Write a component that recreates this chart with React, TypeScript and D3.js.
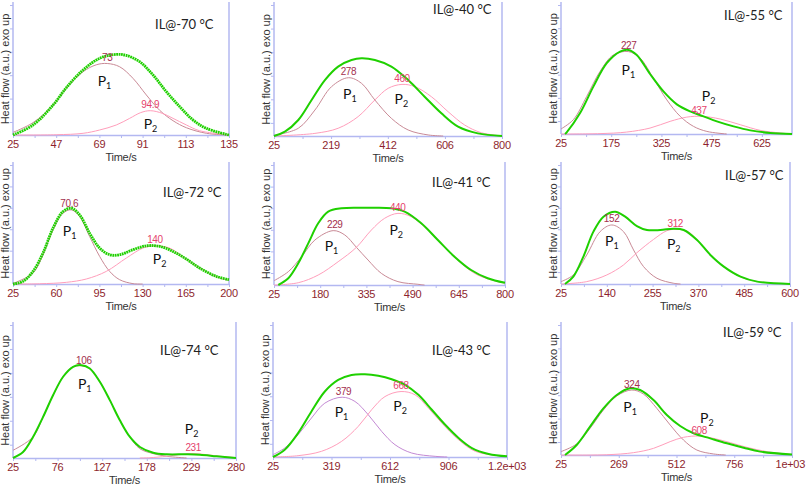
import * as d3 from 'd3';
import { useEffect, useRef } from 'react';

type Pt = [number, number];

// x ticks (values + labels) per panel
const ticks70 = [25, 47, 69, 91, 113, 135];
const ticks40 = [25, 219, 412, 606, 800];
const ticks55 = [25, 175, 325, 475, 625];
const ticks72 = [25, 60, 95, 130, 165, 200];
const ticks41 = [25, 180, 335, 490, 645, 800];
const ticks57 = [25, 140, 255, 370, 485, 600];
const ticks74 = [25, 76, 127, 178, 229, 280];
const ticks43 = [25, 318.75, 612.5, 906.25, 1200];
const tickLabels43 = ['25', '319', '612', '906', '1.2e+03'];
const ticks59 = [25, 268.75, 512.5, 756.25, 1000];
const tickLabels59 = ['25', '269', '512', '756', '1e+03'];

// heat flow, % of plot height
const total70: Pt[] = [[25, 0], [35.2, 7.7], [45.4, 23], [52.2, 36.5], [60.7, 50], [69.1, 59], [77.6, 62], [82.7, 61.2], [89.5, 56.4], [96.3, 46.2], [103.1, 33.3], [109.9, 21.8], [116.7, 11.5], [123.5, 5.1], [135, 0]];
const p1_70: Pt[] = [[25, 2], [35.2, 9.5], [45.4, 23], [52.2, 36], [60.7, 48.7], [67.4, 54], [73, 55], [79.3, 52.5], [86.1, 43.6], [92.9, 30.8], [99.7, 19], [106.5, 11], [113.3, 5.6], [123.5, 1.3], [135, 0]];
const p2_70: Pt[] = [[25, 0], [47, 0.2], [60.7, 1.3], [69, 3.8], [77.6, 7.7], [84.4, 12.8], [90, 17.2], [94.9, 18.7], [101, 16.7], [106.5, 12.8], [113.3, 7.7], [120, 3.3], [135, 0]];

const total40: Pt[] = [[25, 0], [62, 3.3], [107.6, 12.2], [152.8, 27.5], [198, 42.7], [243, 53], [288.6, 58], [322.5, 59.3], [367.8, 58], [424, 53], [481, 42.7], [537, 30], [594, 17.3], [650.6, 7.1], [718, 2], [800, 0]];
const p1_40: Pt[] = [[25, 0.5], [107.6, 5.9], [164, 19.8], [220.7, 37.7], [278, 44.5], [322.5, 40.2], [367.8, 27.5], [424, 13.5], [481, 4.6], [549, 0.8], [600, 0]];
const p2_40: Pt[] = [[25, 0], [164, 2], [243, 5.9], [311, 14.8], [367.8, 27.5], [413, 36.4], [460, 39.4], [503.5, 37.7], [560, 30], [616.6, 18.6], [673, 8.4], [729.8, 2.5], [800, 0]];

const total55: Pt[] = [[37, 0], [42, 1.3], [82, 16.2], [122, 36.9], [161.6, 54.9], [201.5, 63.9], [226.4, 65.2], [251.3, 61.3], [291, 46.5], [331, 33], [371, 23], [411, 17.5], [450.7, 13.7], [490.6, 9.8], [540.5, 5.9], [590.3, 2.8], [650, 0.8], [715, 0]];
const p1_55: Pt[] = [[25, 3.9], [61.9, 11.1], [101.8, 29.1], [141.6, 48.5], [181.5, 61.3], [226.4, 63.9], [261.3, 58.8], [301, 43.3], [341, 26.5], [381, 13.7], [420.8, 5.9], [460.7, 2], [520, 0]];
const p2_55: Pt[] = [[25, 0], [141.6, 0.3], [221, 1.5], [291, 4.6], [351, 9.8], [400.9, 13.1], [445.7, 13.7], [500.6, 11.6], [560.4, 7.2], [620.2, 2.8], [680, 0.8], [715, 0]];

const total72: Pt[] = [[25, 0], [33.1, 2.2], [41.2, 10.6], [49.3, 26], [57.4, 46.9], [65.5, 60.9], [72.3, 63.7], [79, 58.1], [87.1, 42.7], [95.2, 30.2], [103.3, 24.6], [111.4, 24.6], [122.2, 28.8], [133, 32.1], [143.8, 31.6], [154.6, 27.4], [165.4, 21], [176.2, 13.4], [189.7, 6.4], [200, 3.6]];
const p1_72: Pt[] = [[25, 0.5], [41.2, 9.2], [49.3, 24.6], [57.4, 45.5], [65.5, 59.5], [72.3, 62.3], [79, 56.7], [87.1, 39.9], [95.2, 23.2], [103.3, 10.6], [111.4, 3.6], [122.2, 0.3], [130, 0]];
const p2_72: Pt[] = [[25, 0], [46.6, 0.2], [68.2, 1.4], [84.4, 4.2], [100.6, 10.6], [116.8, 21.8], [130.3, 30.2], [139.8, 32.1], [151.9, 30.2], [165.4, 20.8], [178.9, 12], [192.4, 5], [200, 3.1]];

const total41: Pt[] = [[39.5, 0], [73, 5.6], [106.4, 18.1], [139.9, 34.7], [173.3, 51.4], [206.8, 61.1], [251.4, 63.9], [307, 64.4], [362.9, 64.4], [418.6, 63.9], [463.2, 61.1], [519, 51.4], [574.7, 37.5], [630.5, 23.6], [686.2, 12.5], [742, 5.6], [800, 1.8]];
const p1_41: Pt[] = [[25, 3.6], [73, 11.1], [117.6, 23.6], [162.2, 37.5], [223.5, 45.3], [262.5, 41.7], [301.5, 31.4], [340.6, 20.8], [385.2, 9.7], [440.9, 2.8], [507.8, 0.6], [530, 0]];
const p2_41: Pt[] = [[25, 0], [106.4, 1.9], [173.3, 8.3], [240.2, 19.4], [301.5, 31.4], [351.7, 45.8], [396.3, 55.6], [440.9, 59.7], [485.5, 56.9], [541.3, 45.8], [597, 31.9], [652.8, 18.1], [708.5, 8.3], [775.4, 2.8], [800, 1.4]];

const total57: Pt[] = [[35, 0], [56, 6.2], [81.2, 23], [106.4, 44], [131.6, 56.6], [161, 60.8], [186.2, 56.6], [215.6, 48.7], [240.7, 45.4], [274.3, 45.4], [308, 46.5], [333.1, 45.4], [366.6, 37], [400.2, 24.4], [433.8, 14.6], [475.8, 6.2], [517.7, 2], [600, 0]];
const p1_57: Pt[] = [[25, 2], [56, 7.6], [89.6, 24.4], [123.2, 44], [152.6, 49.6], [182, 44], [207.2, 28.6], [232.3, 14.6], [266, 4.8], [308, 0.6], [325, 0]];
const p2_57: Pt[] = [[25, 0], [89.6, 2], [140, 7.6], [182, 16], [215.6, 26.3], [257.5, 37.5], [291, 44.8], [312, 45.9], [341.5, 44.5], [375, 34.2], [408.6, 21.6], [450.6, 10.4], [492.6, 3.9], [543, 1.1], [600, 0]];

const total74: Pt[] = [[25, 0], [36.5, 4.5], [47.9, 15.8], [59.4, 30.9], [70.8, 47.2], [82.3, 61.1], [93.7, 68.6], [103.3, 69.8], [112.8, 67.3], [124.3, 57.3], [135.7, 43.5], [147.2, 28.4], [158.7, 15.8], [170.1, 8.3], [185.3, 4], [200.6, 2.8], [223.5, 2.8], [238.8, 2.5], [257.9, 1.3], [280, 0]];
const p1_74: Pt[] = [[25, 5.8], [47.9, 15.8], [59.4, 30.9], [70.8, 47.2], [82.3, 61.1], [93.7, 68.6], [106, 69.1], [112.8, 67.3], [124.3, 57.3], [135.7, 43.5], [147.2, 28.4], [158.7, 15.8], [170, 7], [185.3, 3.3], [200.6, 1.3], [223.5, 0]];
const p2_74: Pt[] = [[170, 0], [181.5, 0.2], [200.6, 1.3], [215.9, 2.5], [231, 3.3], [246.4, 2.5], [261.7, 1.3], [280, 0.3]];

const total43: Pt[] = [[25, 0], [83.8, 5.5], [150.9, 18.1], [218, 34.5], [285.2, 49.6], [352.3, 58.4], [419.5, 62.2], [486.6, 62.7], [553.8, 61.5], [621, 58.9], [688, 54.7], [755, 47.1], [822.4, 35.8], [889.6, 24.4], [956.7, 14.4], [1023.8, 6.8], [1107.8, 2.3], [1200, 0.5]];
const p1_43: Pt[] = [[25, 1.8], [83.8, 6.8], [150.9, 16.9], [218, 29.5], [285.2, 40.8], [372.5, 45.3], [436.3, 42.1], [503.4, 32], [570.6, 19.4], [637.7, 9.3], [721.6, 3], [839.2, 0.5], [900, 0]];
const p2_43: Pt[] = [[25, 0], [150.9, 1], [268.4, 4.3], [369.1, 11.8], [453, 23.2], [520.2, 35.8], [587.4, 45.8], [668, 49.6], [738.4, 47.1], [805.6, 37], [872.7, 25.7], [956.7, 13.1], [1040.6, 4.3], [1158, 1], [1200, 0.5]];

const total59: Pt[] = [[42, 0], [91.2, 7.7], [147.6, 21.8], [204, 35.9], [260.3, 46.2], [316.7, 51.3], [359, 50], [415.3, 42.3], [471.7, 30.8], [528, 22.3], [584.4, 16.7], [654.8, 12.8], [725.3, 9], [795.8, 5.6], [866.2, 2.6], [1000, 0.3]];
const p1_59: Pt[] = [[25, 2.6], [91.2, 8.5], [147.6, 20.5], [204, 34.6], [260.3, 45.4], [324, 50], [373, 46.9], [429.4, 35.9], [485.8, 23.1], [542.1, 11.5], [598.5, 3.8], [669, 0.8], [720, 0]];
const p2_59: Pt[] = [[25, 0], [218, 0.2], [330.8, 1.8], [415.3, 5.1], [485.8, 10.3], [542.1, 13.6], [608, 14.6], [669, 12.8], [739.4, 9.5], [809.8, 5.9], [894.4, 2.6], [1000, 0.3]];

// peak times shown on the fitted components
const peaks70 = ['73', '94.9'];
const peaks40 = ['278', '460'];
const peaks55 = ['227', '437'];
const peaks72 = ['70.6', '140'];
const peaks41 = ['229', '440'];
const peaks57 = ['152', '312'];
const peaks74 = ['106', '231'];
const peaks43 = ['379', '668'];
const peaks59 = ['324', '608'];

const titles = ['IL@-70 °C', 'IL@-40 °C', 'IL@-55 °C', 'IL@-72 °C', 'IL@-41 °C', 'IL@-57 °C', 'IL@-74 °C', 'IL@-43 °C', 'IL@-59 °C'];

const panels = [
  { ticks: ticks70, labels: null, max: 135, total: total70, p1: p1_70, p2: p2_70, peaks: peaks70, box: [13, 229, 5, 135], tpos: [155, 29], l1: [71.6, 41], l2: [95, 7.7], dotted: true, c1: '#c98a96' },
  { ticks: ticks40, labels: null, max: 800, total: total40, p1: p1_40, p2: p2_40, peaks: peaks40, box: [274, 502, 5, 136], tpos: [433, 14], l1: [283, 31.3], l2: [458, 27.5], dotted: false, c1: '#c98a96' },
  { ticks: ticks55, labels: null, max: 715, total: total55, p1: p1_55, p2: p2_55, peaks: peaks55, box: [561, 792, 5, 134], tpos: [724, 20], l1: [226, 48.5], l2: [466, 29], dotted: false, c1: '#c98a96' },
  { ticks: ticks72, labels: null, max: 200, total: total72, p1: p1_72, p2: p2_72, peaks: peaks72, box: [13, 229, 165, 284], tpos: [163, 197], l1: [70.9, 44], l2: [143.8, 20.4], dotted: true, c1: '#c98a96' },
  { ticks: ticks41, labels: null, max: 800, total: total41, p1: p1_41, p2: p2_41, peaks: peaks41, box: [274, 505, 165, 285], tpos: [432, 187], l1: [217.9, 31.4], l2: [435, 45.3], dotted: false, c1: '#c98a96' },
  { ticks: ticks57, labels: null, max: 600, total: total57, p1: p1_57, p2: p2_57, peaks: peaks57, box: [561, 790, 165, 284], tpos: [725, 180], l1: [152.6, 35.6], l2: [308, 32.8], dotted: false, c1: '#c98a96' },
  { ticks: ticks74, labels: null, max: 280, total: total74, p1: p1_74, p2: p2_74, peaks: peaks74, box: [13, 236, 325, 458], tpos: [160, 355], l1: [107, 54.8], l2: [229.2, 20.9], dotted: false, c1: '#c98a96' },
  { ticks: ticks43, labels: tickLabels43, max: 1200, total: total43, p1: p1_43, p2: p2_43, peaks: peaks43, box: [273, 507, 325, 457], tpos: [432, 355], l1: [369, 33.2], l2: [663, 37.8], dotted: false, c1: '#c48ad4' },
  { ticks: ticks59, labels: tickLabels59, max: 1000, total: total59, p1: p1_59, p2: p2_59, peaks: peaks59, box: [561, 792, 325, 455], tpos: [723, 337], l1: [316.7, 35.9], l2: [640.8, 27.4], dotted: false, c1: '#c98a96' },
];

const axisColor = '#b3b8f1';
const sans = '"Liberation Sans", Arial, sans-serif';
const calib = 'Lato, "Open Sans", sans-serif';

function App() {
  const ref = useRef<SVGSVGElement>(null);

  useEffect(() => {
    const svg = d3.select(ref.current);
    svg.selectAll('*').remove();

    panels.forEach((p, i) => {
      const [L, R, T, B] = p.box;
      const x = d3.scaleLinear().domain([25, p.max]).range([L, R]);
      const y = d3.scaleLinear().domain([0, 100]).range([B, T]);
      const g = svg.append('g');

      // frame: left, right and bottom
      g.append('line').attr('x1', L).attr('x2', L).attr('y1', T - 3).attr('y2', B)
        .attr('stroke', axisColor).attr('stroke-width', 1.5);
      g.append('line').attr('x1', R).attr('x2', R).attr('y1', T - 3).attr('y2', B)
        .attr('stroke', axisColor).attr('stroke-width', 1.5);

      const left = g.append('g').attr('transform', `translate(${L},0)`)
        .call(d3.axisLeft(y).tickValues([10, 28, 46, 64, 82, 100]).tickSize(3).tickFormat(() => ''));
      left.select('.domain').remove();
      left.selectAll('line').attr('stroke', axisColor);

      const minor = p.ticks.slice(1).map((t, k) => (t + p.ticks[k]) / 2);
      const bottom = g.append('g').attr('transform', `translate(0,${B})`)
        .call(d3.axisBottom(x).tickValues([...p.ticks, ...minor]).tickSize(3).tickSizeOuter(0).tickFormat(() => ''));
      bottom.select('.domain').attr('stroke', axisColor).attr('stroke-width', 1.5);
      bottom.selectAll('line').attr('stroke', axisColor);

      g.selectAll('.tl')
        .data(p.ticks)
        .join('text')
        .attr('x', d => x(d))
        .attr('y', B + 12.5)
        .attr('text-anchor', 'middle')
        .attr('font-family', sans)
        .attr('font-size', 11)
        .attr('letter-spacing', -0.3)
        .attr('fill', '#8e1f2e')
        .text((d, k) => (p.labels ? p.labels[k] : String(d)))
        .each(function () {
          // keep the last label inside the page
          const el = this as SVGTextElement;
          const w = el.getComputedTextLength();
          const cx = +el.getAttribute('x')!;
          if (cx + w / 2 > 805) el.setAttribute('x', String(805 - w / 2));
        });

      g.append('text')
        .attr('x', (L + R) / 2)
        .attr('y', B + 25.5)
        .attr('text-anchor', 'middle')
        .attr('font-family', sans)
        .attr('font-size', 11)
        .attr('letter-spacing', -0.3)
        .attr('fill', '#333')
        .text('Time/s');

      g.append('text')
        .attr('transform', `translate(${L - 4},${(T + B) / 2 - 1}) rotate(-90)`)
        .attr('text-anchor', 'middle')
        .attr('font-family', sans)
        .attr('font-size', 11)
        .attr('fill', '#333')
        .text('Heat flow (a.u.) exo up');

      const line = d3.line<Pt>()
        .x(d => x(d[0]))
        .y(d => y(d[1]))
        .curve(d3.curveCatmullRom.alpha(0.5));

      g.append('path').attr('d', line(p.p1)).attr('fill', 'none')
        .attr('stroke', p.c1).attr('stroke-width', 1);
      g.append('path').attr('d', line(p.p2)).attr('fill', 'none')
        .attr('stroke', '#ff9ebb').attr('stroke-width', 1);
      const tot = g.append('path').attr('d', line(p.total)).attr('fill', 'none')
        .attr('stroke', '#1fd000').attr('stroke-width', p.dotted ? 2.8 : 2);
      if (p.dotted) tot.attr('stroke-dasharray', '1.8 0.6');

      // peak time labels
      [p.p1, p.p2].forEach((c, k) => {
        const top = d3.max(c, d => d[1]) as number;
        g.append('text')
          .attr('x', x(+p.peaks[k]))
          .attr('y', y(top) - 2.5)
          .attr('text-anchor', 'middle')
          .attr('font-family', sans)
          .attr('font-size', 10)
          .attr('letter-spacing', -0.4)
          .attr('fill', k === 0 ? '#a3304e' : '#e5426c')
          .text(p.peaks[k]);
      });

      // P1 / P2 labels
      [p.l1, p.l2].forEach((pos, k) => {
        const t = g.append('text')
          .attr('x', x(pos[0]))
          .attr('y', y(pos[1]) + 4)
          .attr('text-anchor', 'middle')
          .attr('font-family', calib)
          .attr('font-size', 14)
          .attr('fill', '#111');
        t.append('tspan').text('P');
        t.append('tspan').attr('font-size', 9).attr('dy', 3).text(String(k + 1));
      });

      g.append('text')
        .attr('x', p.tpos[0])
        .attr('y', p.tpos[1])
        .attr('font-family', calib)
        .attr('font-size', 13)
        .attr('fill', '#222')
        .text(titles[i]);
    });
  }, []);

  return (
    <div style={{ position: 'absolute', left: 0, top: 0 }}>
      <svg ref={ref} width={806} height={485} style={{ display: 'block', background: '#fff' }} />
    </div>
  );
}

export default App;
